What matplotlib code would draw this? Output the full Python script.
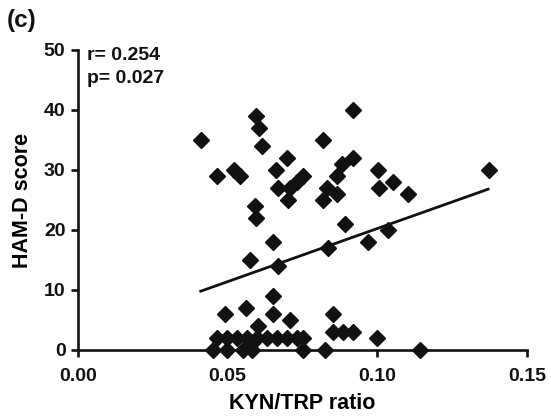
import matplotlib
matplotlib.use("Agg")
import matplotlib.pyplot as plt

# KYN/TRP ratio vs HAM-D score
kyn_trp = [
    0.041, 0.0594, 0.0606, 0.0614, 0.092, 0.0818, 0.0463, 0.052, 0.054,
    0.0697, 0.066, 0.0753, 0.073, 0.0708, 0.0669, 0.0703,
    0.0881, 0.092, 0.0866, 0.0833, 0.0866, 0.0818,
    0.1003, 0.1053, 0.1007, 0.1104, 0.1373,
    0.0892, 0.1034, 0.097, 0.0836,
    0.0591, 0.0595, 0.0652, 0.0574, 0.0669,
    0.0652, 0.049, 0.0561, 0.0652, 0.0708, 0.0602,
    0.0853, 0.0853, 0.0886, 0.092, 0.0998,
    0.0463, 0.0497, 0.053, 0.0564, 0.0597, 0.063, 0.0664, 0.0697, 0.073, 0.0753,
    0.0452, 0.0497, 0.0552, 0.058, 0.0753, 0.0825, 0.1143,
]
ham_d = [
    35, 39, 37, 34, 40, 35, 29, 30, 29,
    32, 30, 29, 28, 27, 27, 25,
    31, 32, 29, 27, 26, 25,
    30, 28, 27, 26, 30,
    21, 20, 18, 17,
    24, 22, 18, 15, 14,
    9, 6, 7, 6, 5, 4,
    6, 3, 3, 3, 2,
    2, 2, 2, 2, 2, 2, 2, 2, 2, 2,
    0, 0, 0, 0, 0, 0, 0,
]

# Regression line endpoints
fit_x = [0.041, 0.137]
fit_y = [9.8, 26.8]

x_ticks = [0.00, 0.05, 0.10, 0.15]
x_tick_labels = ["0.00", "0.05", "0.10", "0.15"]
y_ticks = [0, 10, 20, 30, 40, 50]

plt.rcParams['font.family'] = ['Liberation Sans', 'DejaVu Sans']
plt.rcParams['font.weight'] = 'bold'

fig = plt.figure(figsize=(5.51, 4.20), dpi=100)
ax = fig.add_axes([78/551, 70/420, 449/551, 300/420])

ax.plot(kyn_trp, ham_d, linestyle='none', marker='D', markersize=8,
        color='#111111', clip_on=False, zorder=3)
ax.plot(fit_x, fit_y, color='#111111', linewidth=2.0, zorder=2)

ax.set_xlim(0, 0.15)
ax.set_ylim(0, 50)
ax.set_xticks(x_ticks)
ax.set_xticklabels(x_tick_labels)
ax.set_yticks(y_ticks)

for s in ['top', 'right']:
    ax.spines[s].set_visible(False)
for s in ['left', 'bottom']:
    ax.spines[s].set_linewidth(1.9)
    ax.spines[s].set_color('#111111')

ax.tick_params(axis='both', direction='out', length=5, width=1.9,
               labelsize=14, colors='#111111', pad=4)
ax.tick_params(axis='x', pad=8)
for lab in ax.get_xticklabels() + ax.get_yticklabels():
    lab.set_fontweight('bold')

ax.set_xlabel('KYN/TRP ratio', fontsize=15.5, fontweight='bold', labelpad=6)
ax.set_ylabel('HAM-D score', fontsize=15.5, fontweight='bold', labelpad=8)

ax.text(9/449, 1 + 3/300, 'r= 0.254\np= 0.027', transform=ax.transAxes,
        fontsize=14, fontweight='bold', va='top', ha='left',
        linespacing=1.45, color='#111111')

fig.text(7/551, 1 - 9/420, '(c)', fontsize=17.5, fontweight='bold',
         va='top', ha='left', color='#111111')

fig.savefig('out.png', dpi=100)
